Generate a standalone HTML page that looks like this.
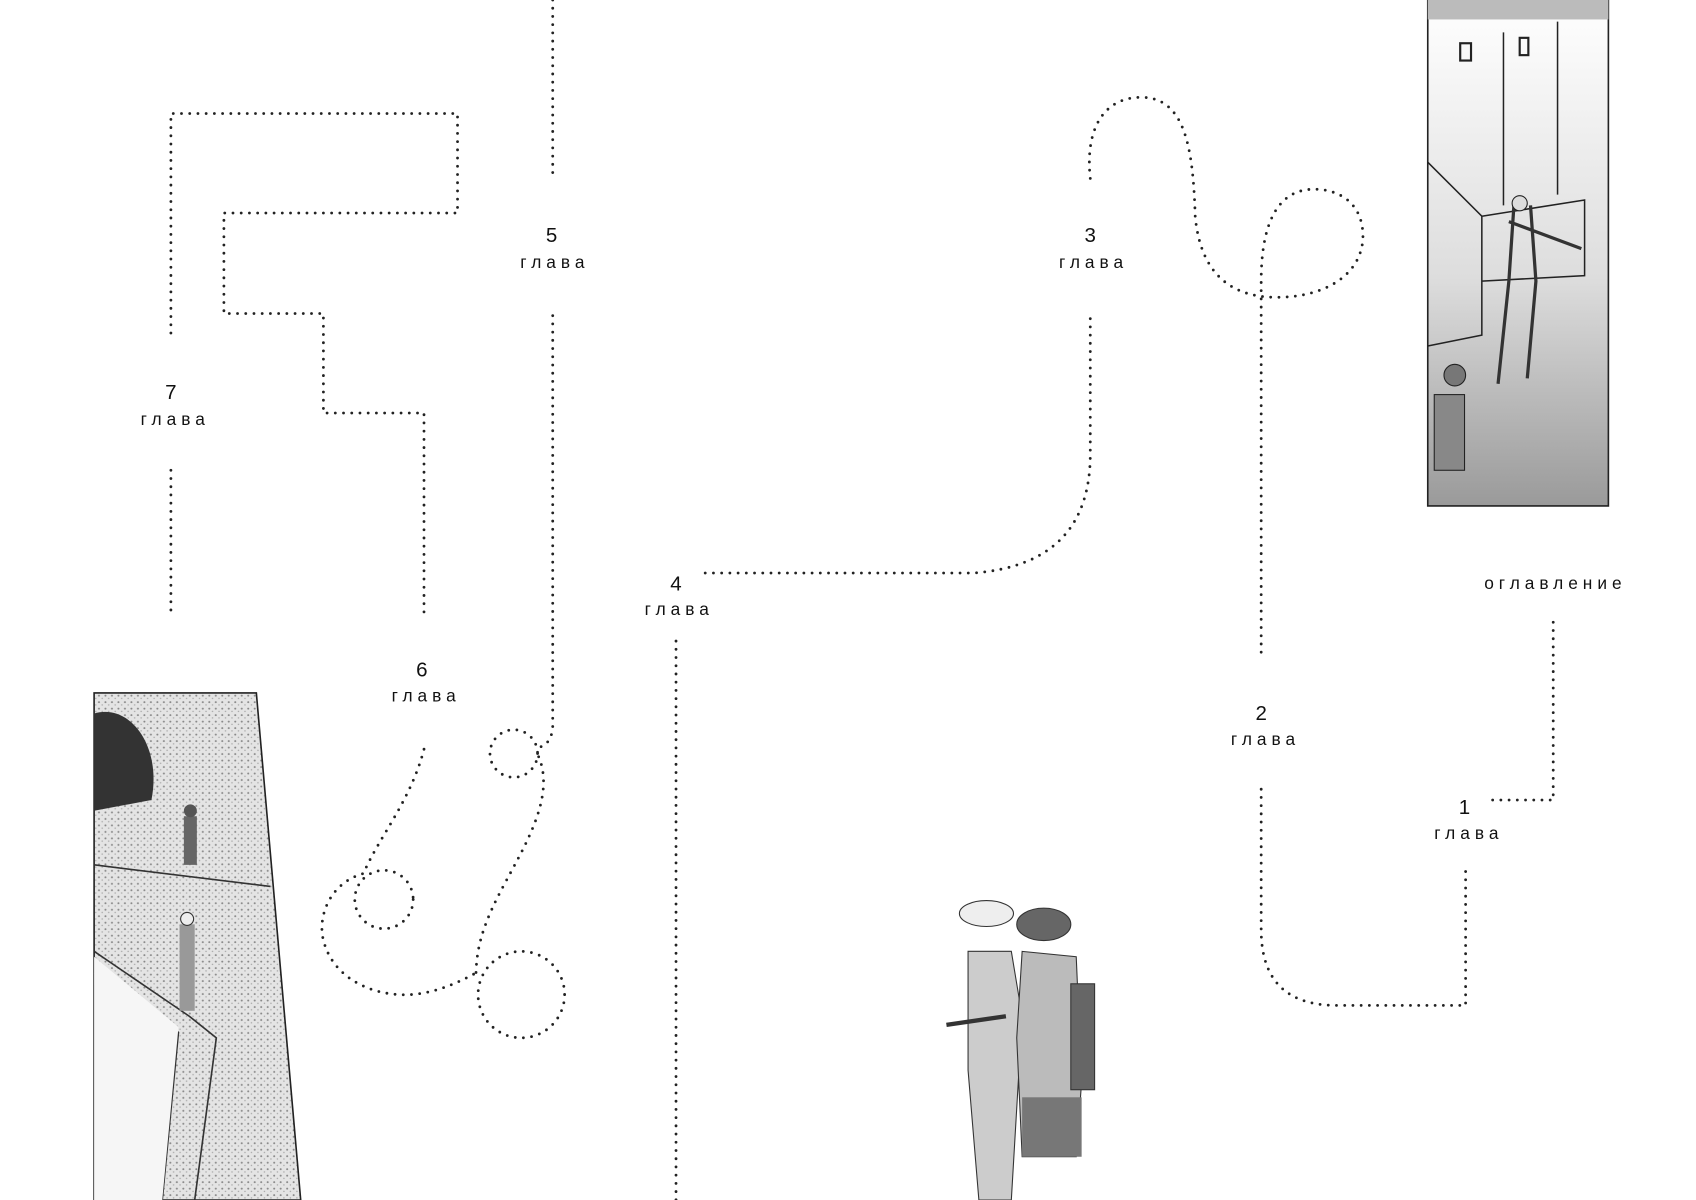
<!DOCTYPE html>
<html><head><meta charset="utf-8"><style>
html,body{margin:0;padding:0;background:#fff;}
svg{display:block}
text{font-family:"Liberation Sans","DejaVu Sans",sans-serif;fill:#111;text-anchor:middle}
.g{font-size:16px;letter-spacing:4.6px}
.n{font-size:19px;font-weight:300}
.d{fill:none;stroke:#222;stroke-width:2.6;stroke-linecap:round;stroke-dasharray:0 7.6}
</style></head><body>
<svg width="1696" height="1200" viewBox="0 0 1568 1110" preserveAspectRatio="none" xmlns="http://www.w3.org/2000/svg">
<defs>
<linearGradient id="gr" x1="0" y1="0" x2="0" y2="1"><stop offset="0" stop-color="#fff"/><stop offset="0.55" stop-color="#ddd"/><stop offset="1" stop-color="#9a9a9a"/></linearGradient>
<pattern id="st" width="6" height="6" patternUnits="userSpaceOnUse"><rect width="6" height="6" fill="#e4e4e4"/><circle cx="1.5" cy="1.5" r="0.9" fill="#888"/><circle cx="4.5" cy="4" r="0.7" fill="#aaa"/></pattern>
</defs>
<rect x="1320" y="0" width="167" height="468" fill="url(#gr)" stroke="#222" stroke-width="1.5"/>
<rect x="1320" y="0" width="167" height="18" fill="#bbb"/>
<path d="M1320 150 L1370 200 L1370 310 L1320 320 M1370 200 L1465 185 L1465 255 L1370 260 M1390 30 L1390 190 M1440 20 L1440 180" stroke="#222" stroke-width="1.4" fill="none"/>
<rect x="1350" y="40" width="10" height="16" fill="none" stroke="#222" stroke-width="2"/>
<rect x="1405" y="35" width="8" height="16" fill="none" stroke="#222" stroke-width="2"/>
<path d="M1400 185 L1395 260 L1385 355 M1415 190 L1420 260 L1412 350 M1395 205 L1462 230" stroke="#333" stroke-width="3" fill="none"/>
<circle cx="1405" cy="188" r="7" fill="#ddd" stroke="#222"/>
<rect x="1326" y="365" width="28" height="70" fill="#888" stroke="#222"/>
<circle cx="1345" cy="347" r="10" fill="#777" stroke="#222"/>
<polygon points="87,641 237,641 278,1110 87,1110" fill="url(#st)" stroke="#222" stroke-width="1.5"/>
<path d="M87 660 C120 650 150 690 140 740 L87 750 Z" fill="#333"/>
<path d="M87 800 L250 820 M87 880 L175 940 L200 960 L180 1110 M87 900 L165 955 L150 1110" stroke="#333" stroke-width="1.5" fill="none"/>
<polygon points="87,885 165,950 150,1110 87,1110" fill="#f6f6f6"/>
<rect x="170" y="755" width="12" height="45" fill="#666"/><circle cx="176" cy="750" r="6" fill="#555"/>
<rect x="166" y="855" width="14" height="80" fill="#999"/><circle cx="173" cy="850" r="6" fill="#eee" stroke="#333"/>
<path d="M895 880 L935 880 L945 940 L935 1110 L905 1110 L895 990 Z" fill="#ccc" stroke="#333"/>
<ellipse cx="912" cy="845" rx="25" ry="12" fill="#eee" stroke="#333"/>
<path d="M945 880 L995 885 L1000 1000 L995 1070 L945 1070 L940 960 Z" fill="#bbb" stroke="#333"/>
<rect x="945" y="1015" width="55" height="55" fill="#777"/>
<ellipse cx="965" cy="855" rx="25" ry="15" fill="#666" stroke="#333"/>
<rect x="990" y="910" width="22" height="98" fill="#666" stroke="#333"/>
<path d="M875 948 L930 940" stroke="#333" stroke-width="4"/>
<path class="d" d="M511 0 L511 165"/>
<path class="d" d="M158 308 L158 105 L423 105 L423 197 L207 197 L207 290 L299 290 L299 382 L392 382 L392 570"/>
<path class="d" d="M158 435 L158 570"/>
<path class="d" d="M511 292 L511 672 Q510 690 495 692"/>
<path class="d" d="M498 700 C515 740 480 790 460 830 C445 860 440 880 440 905"/>
<circle class="d" cx="475" cy="697" r="22"/>
<circle class="d" cx="355" cy="832" r="27"/>
<circle class="d" cx="482" cy="920" r="40"/>
<path class="d" d="M392 693 C380 740 350 775 336 808 C310 815 295 840 298 865 C305 905 345 922 380 920 C405 918 425 908 440 900"/>
<path class="d" d="M625 593 L625 1110"/>
<path class="d" d="M652 530 L900 530 Q1008 522 1008 420 L1008 292"/>
<path class="d" d="M1008 165 C1003 120 1020 90 1055 90 C1095 90 1103 135 1105 200 C1110 255 1140 275 1180 275 C1230 275 1262 250 1260 215 C1258 185 1235 175 1215 175 C1185 175 1166 200 1166 260 L1166 608"/>
<path class="d" d="M1166 730 L1166 860 Q1166 930 1236 930 L1355 930 L1355 800"/>
<path class="d" d="M1380 740 L1436 740 L1436 575"/>
<text class="n" x="510" y="224">5</text><text class="g" x="513" y="248">глава</text>
<text class="n" x="1008" y="224">3</text><text class="g" x="1011" y="248">глава</text>
<text class="n" x="158" y="369">7</text><text class="g" x="162" y="393">глава</text>
<text class="n" x="390" y="626">6</text><text class="g" x="394" y="649">глава</text>
<text class="n" x="625" y="546">4</text><text class="g" x="628" y="569">глава</text>
<text class="n" x="1166" y="666">2</text><text class="g" x="1170" y="689">глава</text>
<text class="n" x="1354" y="753">1</text><text class="g" x="1358" y="776">глава</text>
<text class="g" x="1438" y="545">оглавление</text>
</svg>
</body></html>
